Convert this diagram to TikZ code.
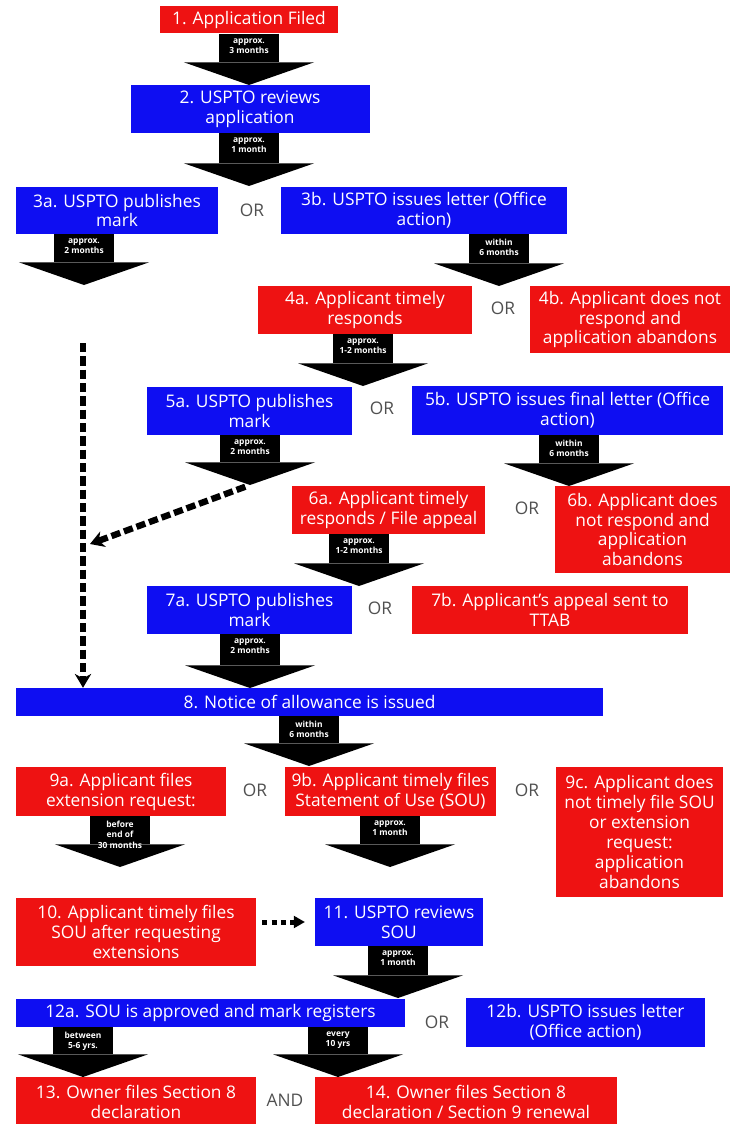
\documentclass[tikz,border=0pt]{standalone}
\usepackage{fontspec}
\setmainfont{Open Sans}
\usetikzlibrary{arrows.meta}

\definecolor{boxred}{RGB}{238,18,18}
\definecolor{boxblue}{RGB}{14,14,242}
\definecolor{orgray}{RGB}{80,80,80}

\tikzset{
  base/.style={text=white, align=center, inner sep=0pt, font=\fontsize{14.8pt}{17pt}\selectfont},
  redbox/.style 2 args={base, fill=boxred, minimum width=#1*0.03cm, minimum height=#2*0.03cm},
  bluebox/.style 2 args={base, fill=boxblue, minimum width=#1*0.03cm, minimum height=#2*0.03cm},
  ortext/.style={text=orgray, font=\fontsize{14.8pt}{17pt}\selectfont},
  fat/.style={line width=1.8cm, -{Triangle[width=3.9cm,length=0.68cm,line width=0pt]}},
  fatlbl/.style={text=white, align=center, outer sep=0pt, inner sep=0pt, font=\fontsize{7.2pt}{8.8pt}\bfseries\selectfont, below=4pt},
  dashline/.style={line width=0.19cm, dash pattern=on 0.28cm off 0.12cm, -{Stealth[length=0.42cm,width=0.5cm,line width=0pt]}},
  dotline/.style={line width=0.15cm, dash pattern=on 0.15cm off 0.13cm, -{Triangle[length=0.33cm,width=0.38cm,line width=0pt]}}
}

\begin{document}
\begin{tikzpicture}[x=0.03cm, y=-0.03cm]

    \useasboundingbox (0,0) rectangle (734,1124);
    \clip (0,0) rectangle (734,1124);

    % boxes
    \node[redbox={178}{27}]  (n1)  at (249,20)    {1. Application Filed};
    \node[bluebox={239}{48}] (n2)  at (250,109)   {2. USPTO reviews\\application};
    \node[bluebox={202}{47}] (n3a) at (117,210.5) {3a. USPTO publishes\\mark};
    \node[bluebox={286}{47}] (n3b) at (424,210.5) {3b. USPTO issues letter (Office\\action)};
    \node[redbox={214}{48}]  (n4a) at (365,310)   {4a. Applicant timely\\responds};
    \node[redbox={200}{67}]  (n4b) at (630,319.5) {4b. Applicant does not\\respond and\\application abandons};
    \node[bluebox={205}{48}] (n5a) at (249.5,411) {5a. USPTO publishes\\mark};
    \node[bluebox={311}{49}] (n5b) at (567.5,410.5) {5b. USPTO issues final letter (Office\\action)};
    \node[redbox={193}{48}]  (n6a) at (388.5,510) {6a. Applicant timely\\responds / File appeal};
    \node[redbox={175}{87}]  (n6b) at (642.5,529.5) {6b. Applicant does\\not respond and\\application\\abandons};
    \node[bluebox={205}{48}] (n7a) at (249.5,610) {7a. USPTO publishes\\mark};
    \node[redbox={276}{48}]  (n7b) at (550,610)   {7b. Applicant's appeal sent to\\TTAB};
    \node[bluebox={587}{28}] (n8)  at (309.5,702) {8. Notice of allowance is issued};
    \node[redbox={210}{49}]  (n9a) at (121,791.5) {9a. Applicant files\\extension request:};
    \node[redbox={211}{49}]  (n9b) at (390.5,791.5) {9b. Applicant timely files\\Statement of Use (SOU)};
    \node[redbox={167}{130}] (n9c) at (639.5,832) {9c. Applicant does\\not timely file SOU\\or extension\\request:\\application\\abandons};
    \node[redbox={240}{68}]  (n10) at (136,932)   {10. Applicant timely files\\SOU after requesting\\extensions};
    \node[bluebox={168}{48}] (n11) at (399,922)   {11. USPTO reviews\\SOU};
    \node[bluebox={389}{28}] (n12a) at (210.5,1013) {12a. SOU is approved and mark registers};
    \node[bluebox={239}{49}] (n12b) at (585.5,1022.5) {12b. USPTO issues letter\\(Office action)};
    \node[redbox={240}{50}]  (n13) at (136,1102)  {13. Owner files Section 8\\declaration};
    \node[redbox={302}{50}]  (n14) at (466,1102)  {14. Owner files Section 8\\declaration / Section 9 renewal};

    % OR / AND
    \node[ortext] (or1) at (252,210) {OR};
    \node[ortext] (or2) at (503,308) {OR};
    \node[ortext] (or3) at (382,408) {OR};
    \node[ortext] (or4) at (527,508) {OR};
    \node[ortext] (or5) at (380,608) {OR};
    \node[ortext] (or6) at (255,790) {OR};
    \node[ortext] (or7) at (527,790) {OR};
    \node[ortext] (or8) at (437,1022) {OR};
    \node[ortext] (and1) at (285,1100) {AND};

    % arrow tips
    \coordinate (t1)   at (249,85);
    \coordinate (t2)   at (249,186);
    \coordinate (t3a)  at (84,285);
    \coordinate (t3b)  at (499,286);
    \coordinate (t4a)  at (363,386);
    \coordinate (t5a)  at (250,485);
    \coordinate (t5b)  at (569,486);
    \coordinate (t6a)  at (359,586);
    \coordinate (t7a)  at (250,688);
    \coordinate (t8)   at (309,766);
    \coordinate (t9a)  at (120,867);
    \coordinate (t9b)  at (390,867);
    \coordinate (t11)  at (398,998);
    \coordinate (t12l) at (83,1077);
    \coordinate (t12r) at (338,1077);

    % block arrows
    \draw[fat] (n1.south -| t1) -- (t1) node[fatlbl, at start] {approx.\\3 months};
    \draw[fat] (n2.south -| t2) -- (t2) node[fatlbl, at start] {approx.\\1 month};
    \draw[fat] (n3a.south -| t3a) -- (t3a) node[fatlbl, at start] {approx.\\2 months};
    \draw[fat] (n3b.south -| t3b) -- (t3b) node[fatlbl, at start] {within\\6 months};
    \draw[fat] (n4a.south -| t4a) -- (t4a) node[fatlbl, at start] {approx.\\1-2 months};
    \draw[fat] (n5a.south -| t5a) -- (t5a) node[fatlbl, at start] {approx.\\2 months};
    \draw[fat] (n5b.south -| t5b) -- (t5b) node[fatlbl, at start] {within\\6 months};
    \draw[fat] (n6a.south -| t6a) -- (t6a) node[fatlbl, at start] {approx.\\1-2 months};
    \draw[fat] (n7a.south -| t7a) -- (t7a) node[fatlbl, at start] {approx.\\2 months};
    \draw[fat] (n8.south -| t8) -- (t8) node[fatlbl, at start] {within\\6 months};
    \draw[fat] (n9a.south -| t9a) -- (t9a) node[fatlbl, at start] {before\\end of\\30 months};
    \draw[fat] (n9b.south -| t9b) -- (t9b) node[fatlbl, at start] {approx.\\1 month};
    \draw[fat] (n11.south -| t11) -- (t11) node[fatlbl, at start] {approx.\\1 month};
    \draw[fat] (n12a.south -| t12l) -- (t12l) node[fatlbl, at start] {between\\5-6 yrs.};
    \draw[fat] (n12a.south -| t12r) -- (t12r) node[fatlbl, at start] {every\\10 yrs};

    % dashed paths
    \coordinate (d0) at (83,343);
    \coordinate (d1) at (90,544);
    \draw[dashline] (d0) -- (d0 |- n8.north);
    \draw[dashline, shorten <=0.15cm] (t5a) -- (d1);

    % dotted arrow
    \draw[dotline, shorten <=0.18cm, shorten >=0.3cm] (n10.east |- n11.west) -- (n11.west);

\end{tikzpicture}
\end{document}
